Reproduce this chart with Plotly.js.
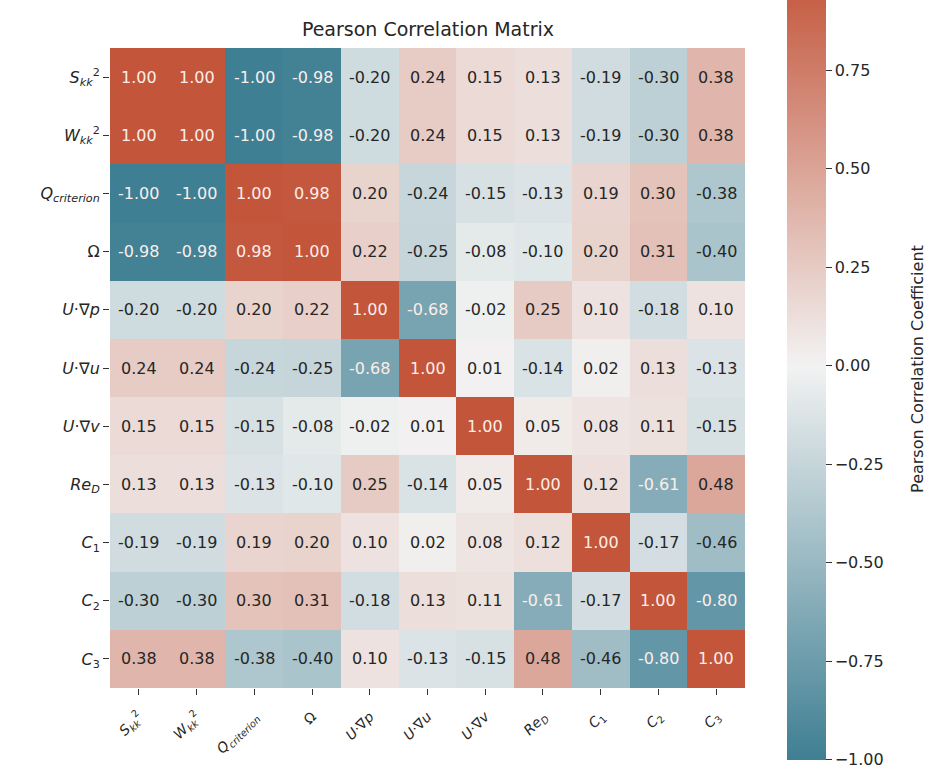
<!DOCTYPE html>
<html>
<head>
<meta charset="utf-8">
<script src="https://cdn.plot.ly/plotly-3.0.1.min.js"></script>
<style>html,body{margin:0;padding:0;background:#fff;}#chart{width:946px;height:772px;}</style>
</head>
<body>
<div id="chart"></div>
<script>
// Variable labels (rows top->bottom, columns left->right)
const varLabels = [
  "<i>S</i><sub><i>kk</i></sub><sup>2</sup>",
  "<i>W</i><sub><i>kk</i></sub><sup>2</sup>",
  "<i>Q</i><sub><i>criterion</i></sub>",
  "Ω",
  "<i>U</i>·∇<i>p</i>",
  "<i>U</i>·∇<i>u</i>",
  "<i>U</i>·∇<i>v</i>",
  "<i>Re</i><sub><i>D</i></sub>",
  "<i>C</i><sub>1</sub>",
  "<i>C</i><sub>2</sub>",
  "<i>C</i><sub>3</sub>"
];

// Correlation rows
const rowS   = [ 1.00,  1.00, -1.00, -0.98, -0.20,  0.24,  0.15,  0.13, -0.19, -0.30,  0.38];
const rowW   = [ 1.00,  1.00, -1.00, -0.98, -0.20,  0.24,  0.15,  0.13, -0.19, -0.30,  0.38];
const rowQ   = [-1.00, -1.00,  1.00,  0.98,  0.20, -0.24, -0.15, -0.13,  0.19,  0.30, -0.38];
const rowOm  = [-0.98, -0.98,  0.98,  1.00,  0.22, -0.25, -0.08, -0.10,  0.20,  0.31, -0.40];
const rowUp  = [-0.20, -0.20,  0.20,  0.22,  1.00, -0.68, -0.02,  0.25,  0.10, -0.18,  0.10];
const rowUu  = [ 0.24,  0.24, -0.24, -0.25, -0.68,  1.00,  0.01, -0.14,  0.02,  0.13, -0.13];
const rowUv  = [ 0.15,  0.15, -0.15, -0.08, -0.02,  0.01,  1.00,  0.05,  0.08,  0.11, -0.15];
const rowRe  = [ 0.13,  0.13, -0.13, -0.10,  0.25, -0.14,  0.05,  1.00,  0.12, -0.61,  0.48];
const rowC1  = [-0.19, -0.19,  0.19,  0.20,  0.10,  0.02,  0.08,  0.12,  1.00, -0.17, -0.46];
const rowC2  = [-0.30, -0.30,  0.30,  0.31, -0.18,  0.13,  0.11, -0.61, -0.17,  1.00, -0.80];
const rowC3  = [ 0.38,  0.38, -0.38, -0.40,  0.10, -0.13, -0.15,  0.48, -0.46, -0.80,  1.00];

const matrix = [rowS, rowW, rowQ, rowOm, rowUp, rowUu, rowUv, rowRe, rowC1, rowC2, rowC3];
const cbTicks = [-1.00, -0.75, -0.50, -0.25, 0.00, 0.25, 0.50, 0.75];

const negColor = [63, 127, 147];
const midColor = [242, 242, 242];
const posColor = [195, 85, 58];
const toHex = c => '#' + c.map(v => Math.round(v).toString(16).padStart(2, '0')).join('');

function cellColor(v) {
  const t = Math.min(1, Math.abs(v));
  const end = v >= 0 ? posColor : negColor;
  return midColor.map((m, i) => m + (end[i] - m) * t);
}
function lum(c) {
  const lin = c.map(x => { x /= 255; return x <= 0.03928 ? x / 12.92 : Math.pow((x + 0.055) / 1.055, 2.4); });
  return 0.2126 * lin[0] + 0.7152 * lin[1] + 0.0722 * lin[2];
}

const idx = varLabels.map((_, i) => i);
const annotations = [];
matrix.forEach((row, r) => {
  row.forEach((v, c) => {
    const col = lum(cellColor(v)) < 0.408 ? '#fbeee9' : '#262626';
    annotations.push({
      x: c, y: r, xref: 'x', yref: 'y', showarrow: false,
      text: v.toFixed(2),
      font: {family: 'DejaVu Sans', size: 16, color: col}
    });
  });
});
annotations.push({
  xref: 'paper', yref: 'paper', x: 1.29, y: 0.498, showarrow: false,
  text: 'Pearson Correlation Coefficient', textangle: -90,
  font: {family: 'DejaVu Sans', size: 16, color: '#262626'}
});

const trace = {
  type: 'heatmap',
  z: matrix,
  x: idx,
  y: idx,
  zmin: -1, zmax: 1,
  colorscale: [[0, toHex(negColor)], [0.5, toHex(midColor)], [1, toHex(posColor)]],
  xgap: 0, ygap: 0,
  hoverinfo: 'none',
  colorbar: {
    thickness: 39,
    lenmode: 'pixels', len: 788,
    x: 1.066, xanchor: 'left', xpad: 0,
    y: -0.112, yanchor: 'bottom', ypad: 0,
    outlinewidth: 0,
    tickvals: cbTicks,
    ticktext: cbTicks.map(v => (v < 0 ? '\u2212' : '') + Math.abs(v).toFixed(2)),
    ticks: 'outside', ticklen: 6, tickwidth: 1, tickcolor: '#333',
    tickfont: {family: 'DejaVu Sans', size: 16, color: '#262626'}
  }
};

const layout = {
  width: 946, height: 772,
  margin: {l: 110, r: 201, t: 48, b: 82},
  paper_bgcolor: '#ffffff', plot_bgcolor: '#ffffff',
  title: {
    text: 'Pearson Correlation Matrix',
    x: 0.4524, xanchor: 'center', y: 0.962, yanchor: 'middle',
    font: {family: 'DejaVu Sans', size: 19, color: '#262626'}
  },
  xaxis: {
    tickvals: idx, ticktext: varLabels, tickangle: -45,
    ticks: 'outside', ticklen: 6, tickcolor: '#333',
    ticklabelstandoff: 8,
    tickfont: {family: 'DejaVu Sans', size: 14, color: '#262626'},
    showgrid: false, zeroline: false, showline: false,
    range: [-0.5, 10.5]
  },
  yaxis: {
    tickvals: idx, ticktext: varLabels,
    ticks: 'outside', ticklen: 6, tickcolor: '#333',
    tickfont: {family: 'DejaVu Sans', size: 16, color: '#262626'},
    showgrid: false, zeroline: false, showline: false,
    range: [10.5, -0.5]
  },
  annotations: annotations
};

Plotly.newPlot('chart', [trace], layout, {displayModeBar: false, staticPlot: true});
</script>
</body>
</html>
